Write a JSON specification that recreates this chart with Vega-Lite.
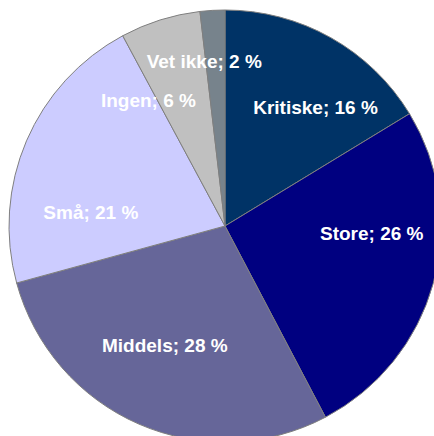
{
  "$schema": "https://vega.github.io/schema/vega-lite/v6.json",
  "width": 434,
  "height": 436,
  "autosize": {"type": "none"},
  "padding": 0,
  "background": "white",
  "view": {"stroke": null},
  "data": {
    "values": [
      {"idx": 1, "category": "Kritiske", "share": 16.3, "pct": 16},
      {"idx": 2, "category": "Store", "share": 26.0, "pct": 26},
      {"idx": 3, "category": "Middels", "share": 28.45, "pct": 28},
      {"idx": 4, "category": "Små", "share": 21.4, "pct": 21},
      {"idx": 5, "category": "Ingen", "share": 6.0, "pct": 6},
      {"idx": 6, "category": "Vet ikke", "share": 1.85, "pct": 2}
    ]
  },
  "transform": [
    {"calculate": "datum.category + '; ' + datum.pct + ' %'", "as": "label"}
  ],
  "encoding": {
    "theta": {"field": "share", "type": "quantitative", "stack": true},
    "order": {"field": "idx", "type": "quantitative", "sort": "ascending"}
  },
  "layer": [
    {
      "mark": {"type": "arc", "outerRadius": 216, "x": 225, "y": 226, "stroke": "#7f7f7f", "strokeWidth": 1},
      "encoding": {
        "color": {
          "field": "category",
          "type": "nominal",
          "scale": {
            "domain": ["Kritiske", "Store", "Middels", "Små", "Ingen", "Vet ikke"],
            "range": ["#003366", "#000080", "#666699", "#CCCCFF", "#C0C0C0", "#77838C"]
          },
          "legend": null
        }
      }
    },
    {
      "mark": {"type": "text", "radius": 146, "x": 225, "y": 226, "dx": 19, "dy": 9, "font": "Liberation Sans", "fontSize": 19, "fontWeight": "bold", "fill": "white", "align": "center", "baseline": "middle"},
      "encoding": {
        "text": {"field": "label", "type": "nominal"},
        "opacity": {"condition": {"test": "datum.category == 'Kritiske'", "value": 1}, "value": 0}
      }
    },
    {
      "mark": {"type": "text", "radius": 146, "x": 225, "y": 226, "dx": 6, "dy": -31, "font": "Liberation Sans", "fontSize": 19, "fontWeight": "bold", "fill": "white", "align": "center", "baseline": "middle"},
      "encoding": {
        "text": {"field": "label", "type": "nominal"},
        "opacity": {"condition": {"test": "datum.category == 'Store'", "value": 1}, "value": 0}
      }
    },
    {
      "mark": {"type": "text", "radius": 146, "x": 225, "y": 226, "dx": -2, "dy": -14, "font": "Liberation Sans", "fontSize": 19, "fontWeight": "bold", "fill": "white", "align": "center", "baseline": "middle"},
      "encoding": {
        "text": {"field": "label", "type": "nominal"},
        "opacity": {"condition": {"test": "datum.category == 'Middels'", "value": 1}, "value": 0}
      }
    },
    {
      "mark": {"type": "text", "radius": 146, "x": 225, "y": 226, "dx": 0, "dy": 45, "font": "Liberation Sans", "fontSize": 19, "fontWeight": "bold", "fill": "white", "align": "center", "baseline": "middle"},
      "encoding": {
        "text": {"field": "label", "type": "nominal"},
        "opacity": {"condition": {"test": "datum.category == 'Små'", "value": 1}, "value": 0}
      }
    },
    {
      "mark": {"type": "text", "radius": 132, "x": 225, "y": 226, "dx": -37, "dy": 1, "font": "Liberation Sans", "fontSize": 19, "fontWeight": "bold", "fill": "white", "align": "center", "baseline": "middle"},
      "encoding": {
        "text": {"field": "label", "type": "nominal"},
        "opacity": {"condition": {"test": "datum.category == 'Ingen'", "value": 1}, "value": 0}
      }
    },
    {
      "mark": {"type": "text", "radius": 168, "x": 225, "y": 226, "dx": -11, "dy": 4, "font": "Liberation Sans", "fontSize": 19, "fontWeight": "bold", "fill": "white", "align": "center", "baseline": "middle"},
      "encoding": {
        "text": {"field": "label", "type": "nominal"},
        "opacity": {"condition": {"test": "datum.category == 'Vet ikke'", "value": 1}, "value": 0}
      }
    }
  ]
}
